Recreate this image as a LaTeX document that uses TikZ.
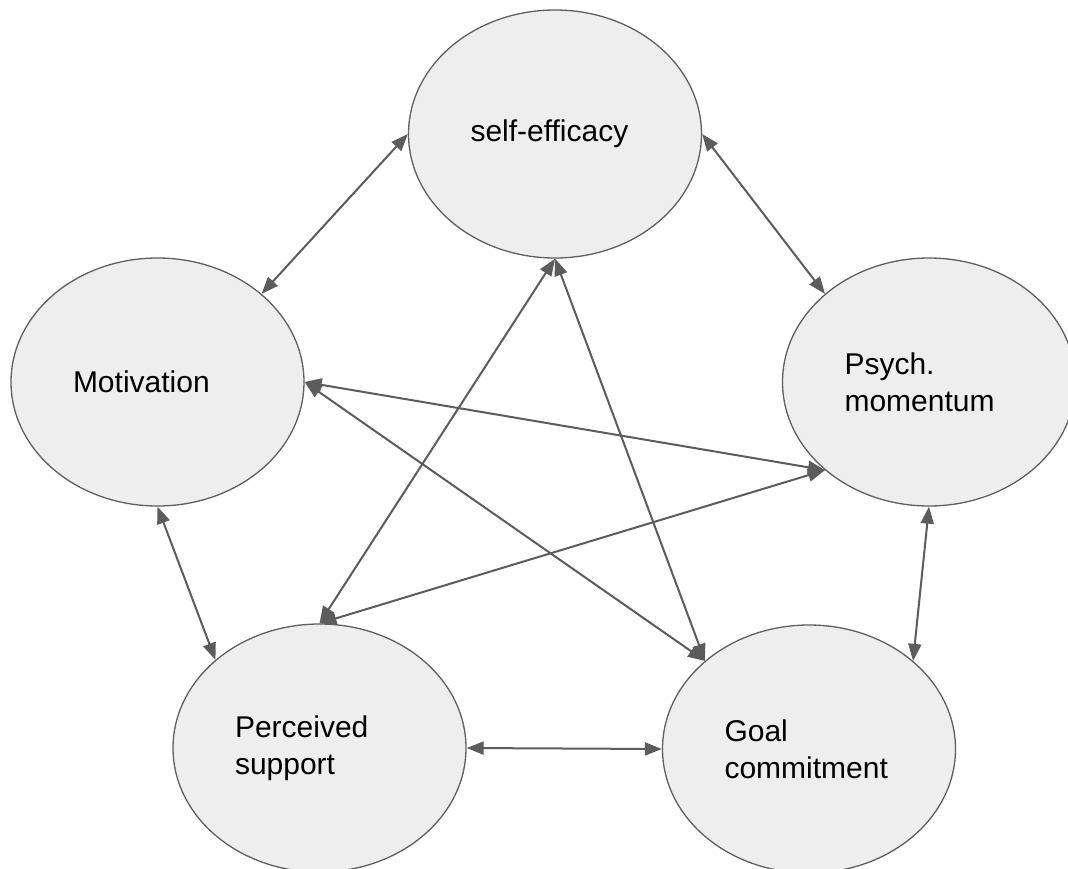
\documentclass[tikz,border=0pt]{standalone}
\usepackage{fontspec}
\setmainfont{Liberation Sans}
\usetikzlibrary{positioning, arrows.meta, shapes.geometric}
\definecolor{BubbleFill}{RGB}{238, 238, 238}
\definecolor{BubbleEdge}{RGB}{95, 95, 95}
\definecolor{LinkGrey}{RGB}{92, 92, 92}

\begin{document}
\begin{tikzpicture}[
    x=1pt, y=-1pt,
    % Global Styles
    bubble/.style={
        ellipse,
        draw=BubbleEdge,       % grey outline
        line width=1.3pt,
        fill=BubbleFill,       % light grey inside
        text=black,
        minimum width=293pt,
        minimum height=248pt,
        inner sep=0pt,
        text width=169pt,      % left aligned text box
        align=left,
        font=\fontsize{30}{37}\selectfont
    },
    link/.style={
        {Triangle[length=17pt,width=13pt]}-{Triangle[length=17pt,width=13pt]},
        line width=2pt,
        draw=LinkGrey          % dark grey connectors
    }
]

    % --- Canvas ---
    \useasboundingbox[fill=white] (0,0) rectangle (1068,868);

    % --- Placement of Nodes ---

    % Top
    \node[bubble] (selfeff) at (555,134) {self-efficacy};

    % Middle row
    \node[bubble] (motiv) at (157.5,382) {Motivation};
    \node[bubble] (momentum) at (929,382) {Psych.\\momentum};

    % Bottom row
    \node[bubble] (support) at (319.5,748) {Perceived\\support};
    \node[bubble] (commit) at (809,749) {Goal\\commitment};


    % --- Connections (all two-way) ---

    % outer ring
    \draw[link] (selfeff.west) -- (motiv.north east);
    \draw[link] (selfeff.east) -- (momentum.north west);
    \draw[link] (motiv.south) -- (support.north west);
    \draw[link] (momentum.south) -- (commit.north east);
    \draw[link] (support.east) -- (commit.west);

    % inner star
    \draw[link] (selfeff.south) -- (support.north);
    \draw[link] (selfeff.south) -- (commit.north west);
    \draw[link] (motiv.east) -- (momentum.south west);
    \draw[link] (motiv.east) -- (commit.north west);
    \draw[link] (momentum.south west) -- (support.north);

\end{tikzpicture}
\end{document}
